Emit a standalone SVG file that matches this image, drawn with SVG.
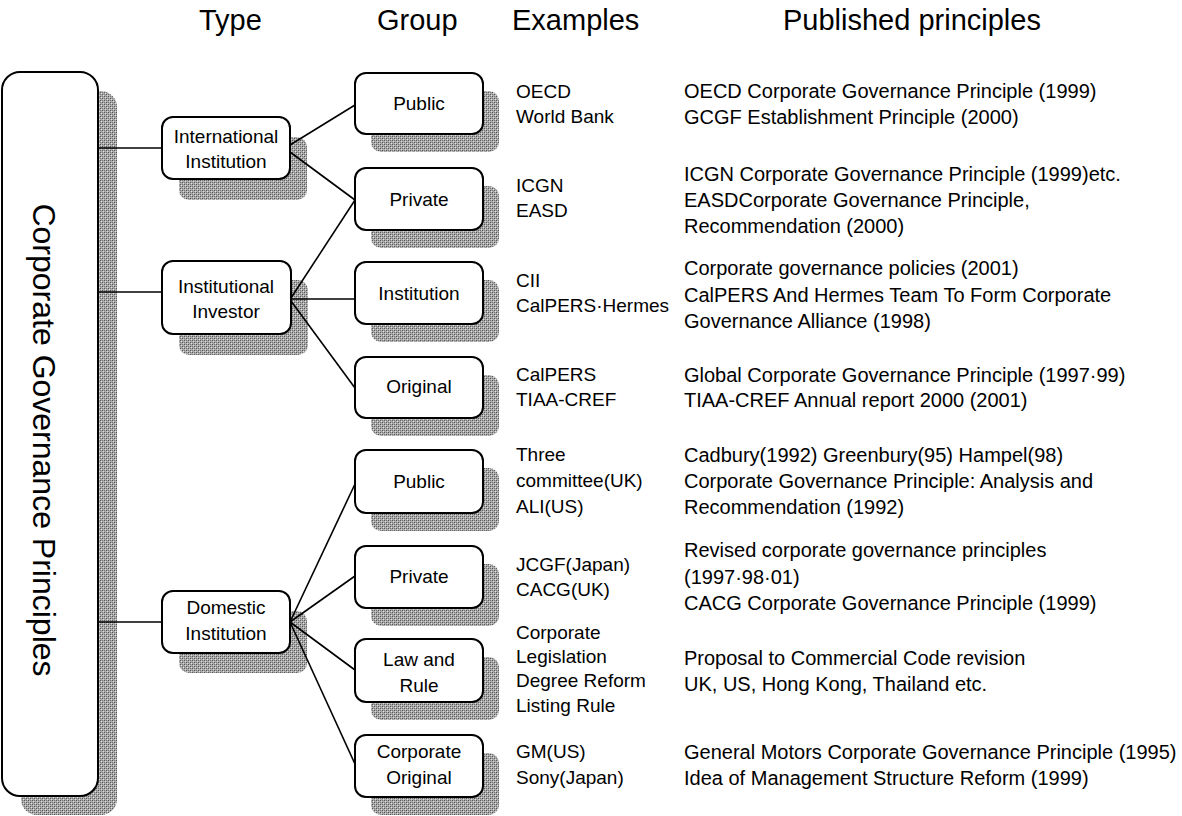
<svg xmlns="http://www.w3.org/2000/svg" width="1182" height="816" viewBox="0 0 1182 816">
<defs>
<pattern id="dither" width="4" height="4" patternUnits="userSpaceOnUse">
<rect width="4" height="4" fill="#aaaaaa"/>
<rect x="0" y="0" width="1" height="1" fill="#555555"/>
<rect x="2" y="2" width="1" height="1" fill="#555555"/>
<rect x="2" y="0" width="1" height="1" fill="#777777"/>
<rect x="0" y="2" width="1" height="1" fill="#777777"/>
<rect x="1" y="1" width="1" height="1" fill="#dddddd"/>
<rect x="3" y="3" width="1" height="1" fill="#dddddd"/>
</pattern>
<style>
.sh{fill:url(#dither);}
.bx{fill:#fff;stroke:#000;stroke-width:2;}
.nt{font-family:"Liberation Sans",Arial,sans-serif;font-size:19px;fill:#000;text-anchor:middle;}
.hd{font-family:"Liberation Sans",Arial,sans-serif;font-size:29px;fill:#000;}
.vt{font-family:"Liberation Sans",Arial,sans-serif;font-size:32px;fill:#000;text-anchor:middle;}
.tx{font-family:"Liberation Sans",Arial,sans-serif;font-size:19px;fill:#000;}
.pp{font-family:"Liberation Sans",Arial,sans-serif;font-size:20px;fill:#000;}
.cn line{stroke:#000;stroke-width:1.6;}
</style>
</defs>
<rect width="1182" height="816" fill="#fff"/>

<g id="headers">
<text class="hd" x="199" y="30">Type</text>
<text class="hd" x="377" y="30">Group</text>
<text class="hd" x="512" y="30">Examples</text>
<text class="hd" x="783" y="30">Published principles</text>
</g>

<g id="shadows">
<rect class="sh" x="21" y="91" width="96" height="724" rx="16"/>
<rect class="sh" x="179" y="137" width="128" height="63" rx="10"/>
<rect class="sh" x="179" y="280" width="129" height="75" rx="10"/>
<rect class="sh" x="179" y="611" width="128" height="62" rx="10"/>
<rect class="sh" x="371" y="91" width="128" height="61" rx="10"/>
<rect class="sh" x="371" y="186" width="128" height="62" rx="10"/>
<rect class="sh" x="371" y="280" width="128" height="62" rx="10"/>
<rect class="sh" x="371" y="375" width="128" height="61" rx="10"/>
<rect class="sh" x="371" y="468" width="128" height="63" rx="10"/>
<rect class="sh" x="371" y="564" width="128" height="62" rx="10"/>
<rect class="sh" x="371" y="657" width="128" height="63" rx="10"/>
<rect class="sh" x="371" y="753" width="128" height="62" rx="10"/>
</g>

<g id="connectors" class="cn">
<line x1="98" y1="148" x2="162" y2="148"/>
<line x1="98" y1="292" x2="162" y2="292"/>
<line x1="98" y1="622" x2="162" y2="622"/>
<line x1="290" y1="145" x2="355" y2="105"/>
<line x1="290" y1="152" x2="355" y2="200"/>
<line x1="291" y1="298" x2="355" y2="200"/>
<line x1="291" y1="299" x2="355" y2="299"/>
<line x1="291" y1="301" x2="355" y2="388"/>
<line x1="290" y1="622" x2="355" y2="484"/>
<line x1="290" y1="622" x2="355" y2="576"/>
<line x1="290" y1="622" x2="355" y2="670"/>
<line x1="290" y1="622" x2="355" y2="764"/>
</g>

<g id="root">
<rect class="bx" x="2" y="72" width="96" height="724" rx="18"/>
<text class="vt" transform="translate(33,440) rotate(90)">Corporate Governance Principles</text>
</g>

<g id="type-international">
<rect class="bx" x="162" y="117" width="128" height="62" rx="11"/>
<text class="nt" x="226" y="143">International</text>
<text class="nt" x="226" y="168">Institution</text>
</g>
<g id="type-investor">
<rect class="bx" x="162" y="261" width="129" height="73" rx="11"/>
<text class="nt" x="226" y="293">Institutional</text>
<text class="nt" x="226" y="318">Investor</text>
</g>
<g id="type-domestic">
<rect class="bx" x="162" y="591" width="128" height="62" rx="11"/>
<text class="nt" x="226" y="614">Domestic</text>
<text class="nt" x="226" y="640">Institution</text>
</g>

<g id="g-public1">
<rect class="bx" x="355" y="73" width="128" height="61" rx="11"/>
<text class="nt" x="419" y="110">Public</text>
</g>
<g id="g-private1">
<rect class="bx" x="355" y="168" width="128" height="62" rx="11"/>
<text class="nt" x="419" y="206">Private</text>
</g>
<g id="g-institution">
<rect class="bx" x="355" y="262" width="128" height="62" rx="11"/>
<text class="nt" x="419" y="300">Institution</text>
</g>
<g id="g-original">
<rect class="bx" x="355" y="357" width="128" height="61" rx="11"/>
<text class="nt" x="419" y="393">Original</text>
</g>
<g id="g-public2">
<rect class="bx" x="355" y="450" width="128" height="63" rx="11"/>
<text class="nt" x="419" y="488">Public</text>
</g>
<g id="g-private2">
<rect class="bx" x="355" y="546" width="128" height="62" rx="11"/>
<text class="nt" x="419" y="583">Private</text>
</g>
<g id="g-law">
<rect class="bx" x="355" y="639" width="128" height="63" rx="11"/>
<text class="nt" x="419" y="666">Law and</text>
<text class="nt" x="419" y="692">Rule</text>
</g>
<g id="g-corporate">
<rect class="bx" x="355" y="735" width="128" height="62" rx="11"/>
<text class="nt" x="419" y="758">Corporate</text>
<text class="nt" x="419" y="784">Original</text>
</g>

<g id="examples">
<text class="tx" x="516" y="98">OECD</text>
<text class="tx" x="516" y="123">World Bank</text>
<text class="tx" x="516" y="192">ICGN</text>
<text class="tx" x="516" y="217">EASD</text>
<text class="tx" x="516" y="287">CII</text>
<text class="tx" x="516" y="312">CalPERS·Hermes</text>
<text class="tx" x="516" y="381">CalPERS</text>
<text class="tx" x="516" y="406">TIAA-CREF</text>
<text class="tx" x="516" y="461">Three</text>
<text class="tx" x="516" y="487">committee(UK)</text>
<text class="tx" x="516" y="513">ALI(US)</text>
<text class="tx" x="516" y="571">JCGF(Japan)</text>
<text class="tx" x="516" y="596">CACG(UK)</text>
<text class="tx" x="516" y="639">Corporate</text>
<text class="tx" x="516" y="663">Legislation</text>
<text class="tx" x="516" y="687">Degree Reform</text>
<text class="tx" x="516" y="712">Listing Rule</text>
<text class="tx" x="516" y="758">GM(US)</text>
<text class="tx" x="516" y="784">Sony(Japan)</text>
</g>

<g id="principles">
<text class="pp" x="684" y="98">OECD Corporate Governance Principle (1999)</text>
<text class="pp" x="684" y="124">GCGF Establishment Principle (2000)</text>
<text class="pp" x="684" y="181">ICGN Corporate Governance Principle (1999)etc.</text>
<text class="pp" x="684" y="207">EASDCorporate Governance Principle,</text>
<text class="pp" x="684" y="233">Recommendation (2000)</text>
<text class="pp" x="684" y="275">Corporate governance policies (2001)</text>
<text class="pp" x="684" y="302">CalPERS And Hermes Team To Form Corporate</text>
<text class="pp" x="684" y="328">Governance Alliance (1998)</text>
<text class="pp" x="684" y="382">Global Corporate Governance Principle (1997·99)</text>
<text class="pp" x="684" y="407">TIAA-CREF Annual report 2000 (2001)</text>
<text class="pp" x="684" y="462">Cadbury(1992) Greenbury(95) Hampel(98)</text>
<text class="pp" x="684" y="488">Corporate Governance Principle: Analysis and</text>
<text class="pp" x="684" y="514">Recommendation (1992)</text>
<text class="pp" x="684" y="557">Revised corporate governance principles</text>
<text class="pp" x="684" y="584">(1997·98·01)</text>
<text class="pp" x="684" y="610">CACG Corporate Governance Principle (1999)</text>
<text class="pp" x="684" y="665">Proposal to Commercial Code revision</text>
<text class="pp" x="684" y="691">UK, US, Hong Kong, Thailand etc.</text>
<text class="pp" x="684" y="759">General Motors Corporate Governance Principle (1995)</text>
<text class="pp" x="684" y="785">Idea of Management Structure Reform (1999)</text>
</g>
</svg>
